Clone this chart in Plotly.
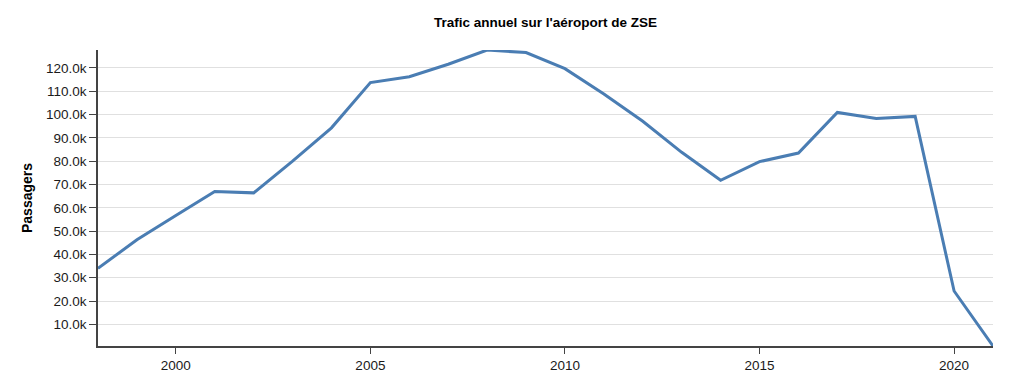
import plotly.graph_objects as go

years = list(range(1998, 2022))
passengers = [34000, 46300, 56700, 67000, 66400, 80000, 94300, 113700, 116200, 121600,
              127700, 126600, 119700, 108800, 97100, 83800, 71800, 79800, 83500, 100900,
              98300, 99200, 24300, 700]
y_tick_vals = [10000 * i for i in range(1, 13)]
y_tick_text = ["10.0k", "20.0k", "30.0k", "40.0k", "50.0k", "60.0k", "70.0k", "80.0k",
               "90.0k", "100.0k", "110.0k", "120.0k"]
x_tick_vals = [2000, 2005, 2010, 2015, 2020]

FONT = "Liberation Sans, Arial, Helvetica, sans-serif"

W, H = 1016, 373  # page body has an 8px margin
L, R, T, B = 90, 31, 42, 35

fig = go.Figure()
fig.add_trace(go.Scatter(x=years, y=passengers, mode="lines",
                         line=dict(color="#4a7db3", width=3), hoverinfo="x+y"))

fig.update_layout(
    width=W, height=H,
    margin=dict(l=L, r=R, t=T, b=B, autoexpand=False),
    paper_bgcolor="white", plot_bgcolor="white",
    showlegend=False,
    font=dict(family=FONT, size=13.5, color="#1a1a1a"),
    title=dict(text="<b>Trafic annuel sur l'aéroport de ZSE</b>",
               x=(L + (W - L - R) / 2) / W, xanchor="center",
               y=1 - 14 / H, yanchor="middle",
               font=dict(family=FONT, size=13.5, color="#000")),
    xaxis=dict(range=[1998, 2021], tickvals=x_tick_vals, showgrid=False, zeroline=False,
               showline=True, linecolor="#444", linewidth=1.5, ticks="outside",
               ticklen=6, tickcolor="#444", tickfont=dict(size=13.5, color="#1a1a1a")),
    yaxis=dict(range=[min(passengers), max(passengers)], tickvals=y_tick_vals,
               ticktext=y_tick_text, showgrid=True, gridcolor="#e0e0e0", gridwidth=1,
               zeroline=False, showline=True, linecolor="#444", linewidth=1.5,
               ticks="outside", ticklen=7, tickcolor="#444",
               tickfont=dict(size=13.5, color="#1a1a1a"),
               title=dict(text="<b>Passagers</b>", standoff=10,
                          font=dict(size=14, color="#000"))),
)

fig.write_html("out.html")
